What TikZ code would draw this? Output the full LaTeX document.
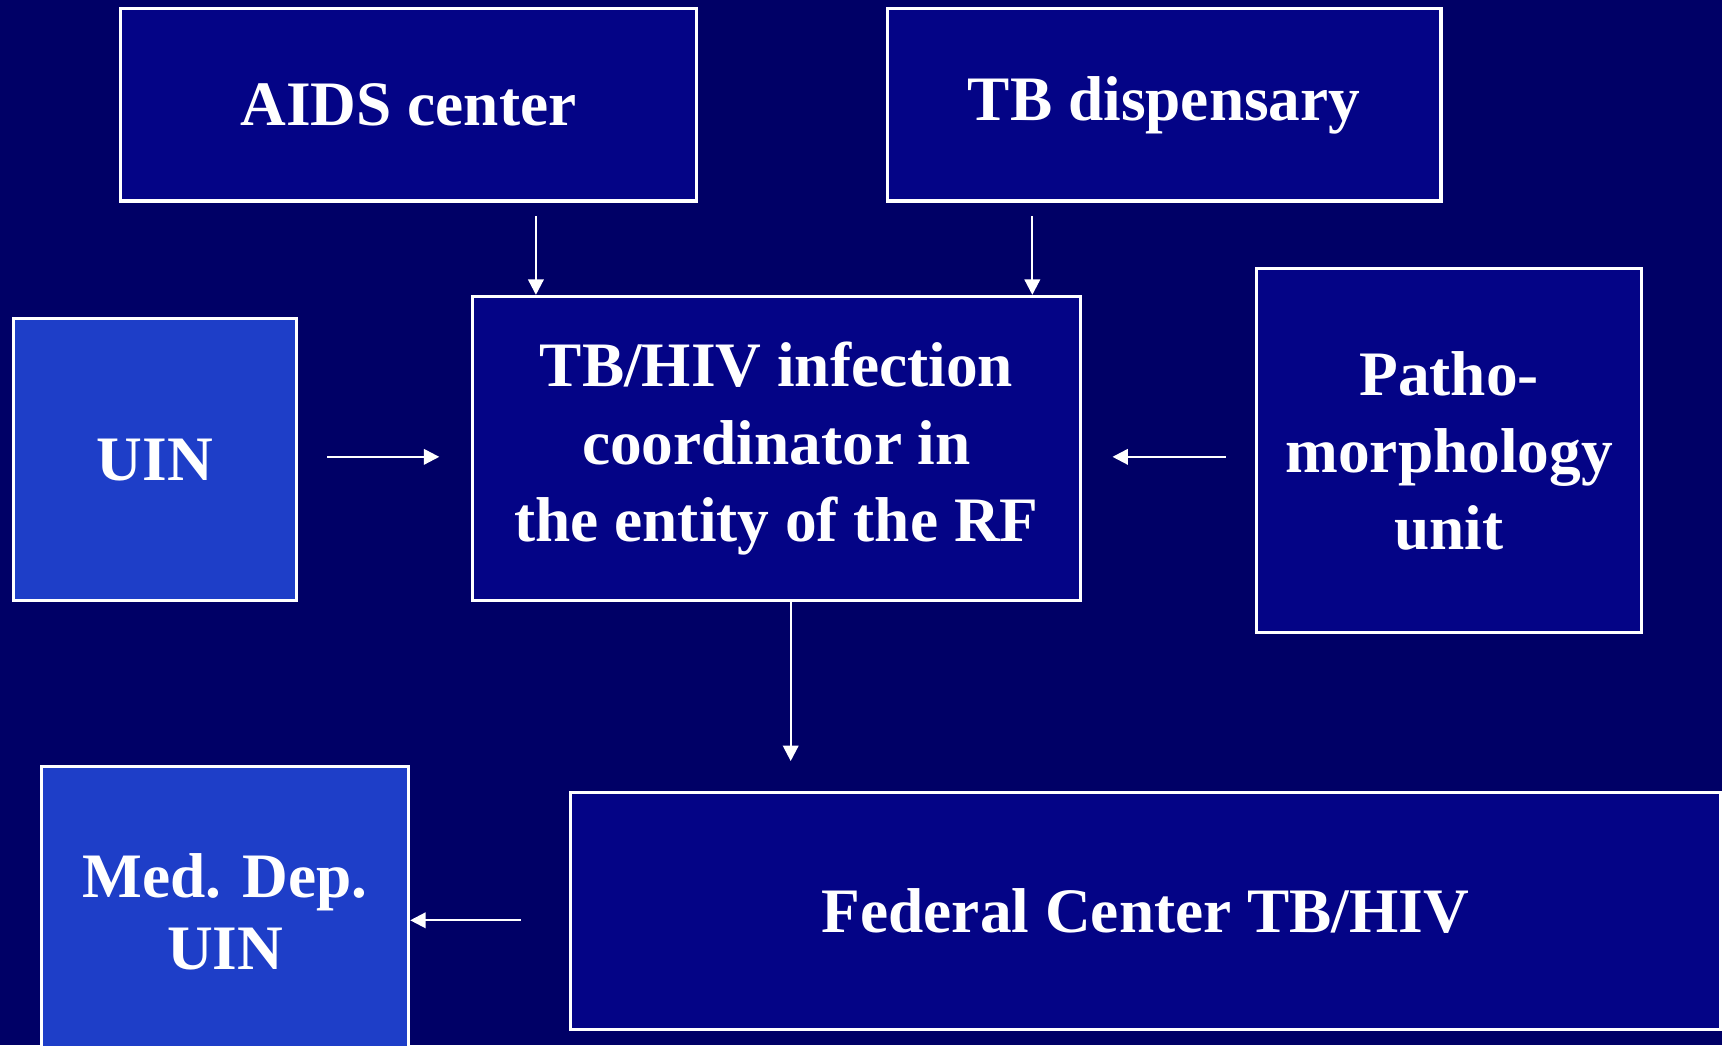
\documentclass[tikz,border=0pt]{standalone}
\usepackage{fontspec}
\setmainfont{Liberation Serif}
\usetikzlibrary{arrows.meta}
\definecolor{slidebg}{RGB}{0,0,102}
\definecolor{boxdark}{RGB}{4,4,134}
\definecolor{boxlight}{RGB}{30,62,200}

\begin{document}
\begin{tikzpicture}[x=0.01cm, y=-0.01cm,
  box/.style={draw=white, line width=0.8pt, fill=boxdark, inner sep=0pt,
    align=center, text=white, font=\fontsize{16.4}{20}\selectfont\bfseries},
  lightbox/.style={box, fill=boxlight},
  arr/.style={draw=white, line width=0.6pt, -{Triangle[length=1.4mm, width=1.4mm]}}]
\fill[slidebg] (0,0) rectangle (1568,952);
\useasboundingbox (0,0) rectangle (1568,952);

%top row
\node[box, minimum width=5.24cm, minimum height=1.75cm] (aids) at (372,95.5) {AIDS center};
\node[box, minimum width=5.04cm, minimum height=1.75cm] (tbd) at (1060,95.5) {TB dispensary};

%middle row
\node[box, minimum width=5.54cm, minimum height=2.77cm] (coord) at (707,408.5)
  {TB/HIV infection\\coordinator in\\the entity of the RF\hspace{0.12cm}};
\node[lightbox, minimum width=2.58cm, minimum height=2.57cm] (uin) at (141,418.5) {UIN};
\node[box, minimum width=3.51cm, minimum height=3.31cm] (patho) at (1319.5,410.5)
  {Patho-\\morphology\\unit};

%bottom row
\node[lightbox, minimum width=3.34cm, minimum height=2.64cm] (med) at (205,830)
  {Med. Dep.\\[-0.05cm]UIN};
\node[box, minimum width=10.46cm, minimum height=2.15cm] (fed) at (1043,829.5)
  {Federal Center TB/HIV};

\coordinate (a1) at (488,197);
\coordinate (a2) at (940,197);
\path[arr] (a1) -- (a1 |- coord.north);
\path[arr] (a2) -- (a2 |- coord.north);

\coordinate (u1) at (298,416);
\coordinate (u2) at (400,416);
\path[arr] (u1) -- (u2);

\coordinate (p1) at (1116,416);
\coordinate (p2) at (1013,416);
\path[arr] (p1) -- (p2);

\coordinate (c1) at (720,693);
\path[arr] (c1 |- coord.south) -- (c1);

\coordinate (f1) at (474,838);
\path[arr] (f1) -- (f1 -| med.east);
\end{tikzpicture}
\end{document}
